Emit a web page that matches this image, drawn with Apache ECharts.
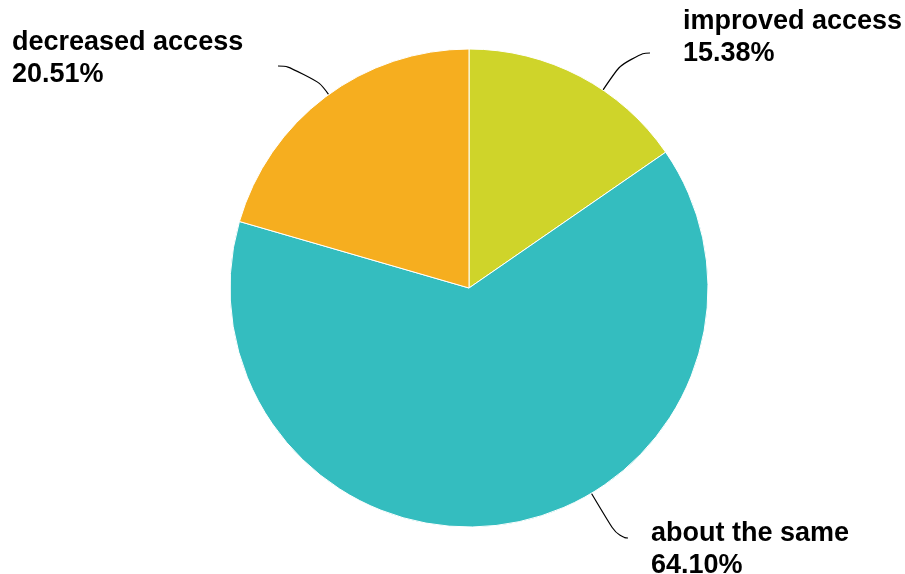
<!DOCTYPE html>
<html>
<head>
<meta charset="utf-8">
<script src="https://cdn.jsdelivr.net/npm/echarts@6/dist/echarts.min.js"></script>
<style>
  html, body { margin: 0; padding: 0; background: #fff; }
  #chart { width: 905px; height: 574px; }
</style>
</head>
<body>
<div id="chart"></div>
<script>
  // slices, clockwise from 12 o'clock
  var categories = ['improved access', 'about the same', 'decreased access'];
  var shares = [15.38, 64.10, 20.51];
  var colors = ['#cfd42a', '#34bdbf', '#f6ae1f'];

  var pieCenter = [469, 288];
  var pieRadius = 239;

  // label placement: text left/top, where the leader line ends, and the
  // length of its flat last part. The line starts on the arc nearest to it.
  var labelBox = {
    'improved access': { x: 683, y: 6, end: [650, 53], len: 22 },
    'about the same': { x: 651, y: 518, end: [628, 538], len: 10 },
    'decreased access': { x: 12, y: 27, end: [278, 66], len: 30 }
  };

  var pieData = categories.map(function (name, i) {
    return { name: name, value: shares[i], itemStyle: { color: colors[i] } };
  });

  var myChart = echarts.init(document.getElementById('chart'));
  myChart.setOption({
    animation: false,
    series: [{
      type: 'pie',
      center: pieCenter,
      radius: pieRadius,
      startAngle: 90,
      clockwise: true,
      itemStyle: { borderColor: '#fff', borderWidth: 1 },
      label: {
        show: true,
        color: '#000',
        fontFamily: '"Liberation Sans", Arial, sans-serif',
        fontWeight: 'bold',
        fontSize: 27,
        lineHeight: 32,
        formatter: function (p) {
          return p.name + '\n' + p.value.toFixed(2) + '%';
        }
      },
      labelLine: {
        show: true,
        smooth: 0.7,
        lineStyle: { color: '#000', width: 1.2 }
      },
      labelLayout: function (params) {
        var b = labelBox[categories[params.dataIndex]];
        var dir = b.end[0] < pieCenter[0] ? 1 : -1;
        var bend = [b.end[0] + dir * b.len, b.end[1]];
        var dx = bend[0] - pieCenter[0], dy = bend[1] - pieCenter[1];
        var d = Math.sqrt(dx * dx + dy * dy);
        var onArc = [pieCenter[0] + dx / d * pieRadius, pieCenter[1] + dy / d * pieRadius];
        return {
          x: b.x,
          y: b.y,
          align: 'left',
          verticalAlign: 'top',
          labelLinePoints: [onArc, bend, b.end]
        };
      },
      emphasis: { disabled: true },
      data: pieData
    }]
  });
</script>
</body>
</html>
